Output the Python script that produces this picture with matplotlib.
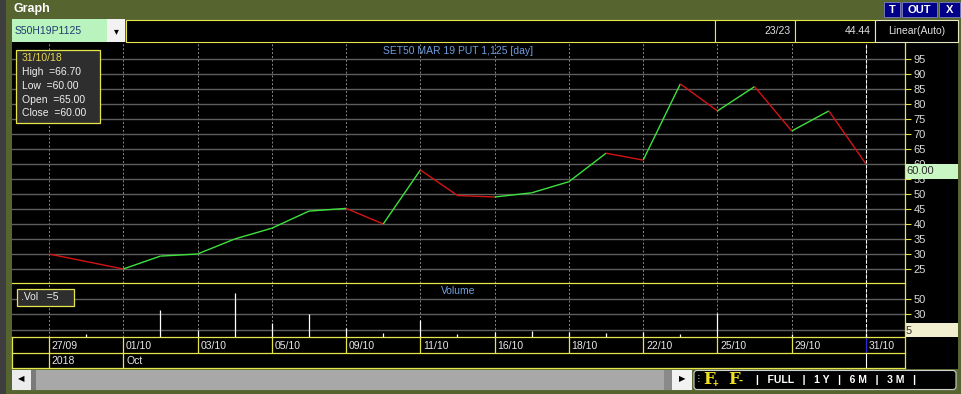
import matplotlib
matplotlib.use("Agg")
import matplotlib.pyplot as plt
import matplotlib.patches as mpatches
import matplotlib.transforms as mtransforms
from matplotlib.collections import LineCollection
import numpy as np

plt.rcParams['font.family'] = ['Liberation Sans', 'DejaVu Sans']

# trading days shown (23 bars)
dates = ['27/09', '28/09', '01/10', '02/10', '03/10', '04/10', '05/10', '08/10',
         '09/10', '10/10', '11/10', '12/10', '16/10', '17/10', '18/10', '19/10',
         '22/10', '24/10', '25/10', '26/10', '29/10', '30/10', '31/10']
closes = [30.0, 27.5, 25.0, 29.3, 30.0, 35.0, 38.6, 44.3, 45.2, 40.0, 58.0, 49.5,
          49.0, 50.4, 54.1, 63.6, 61.3, 86.7, 77.7, 85.8, 71.0, 77.7, 60.0]
volumes = [0, 4, 0, 36, 9.5, 58, 18, 31, 12, 6, 22.5, 4.5, 6.5, 8.7, 7, 6, 6.5,
           4.5, 32, 0, 4, 0, 5]
price_ticks = [25, 30, 35, 40, 45, 50, 55, 60, 65, 70, 75, 80, 85, 90, 95]
vol_ticks = [30, 50]
year_labels = [(0, '2018'), (2, 'Oct')]
last_bar = {'date': '31/10/18', 'High': '66.70', 'Low': '60.00', 'Open': '65.00', 'Close': '60.00'}

W, H = 962, 394
OLIVE = '#56652f'
YEL = '#e6e64a'
GRID = '#5e5e5e'

fig = plt.figure(figsize=(W / 100, H / 100), dpi=100)
fig.patch.set_facecolor(OLIVE)

# background / frame axes in pixel coords
bg = fig.add_axes([0, 0, 1, 1], zorder=0)
bg.set_xlim(0, W)
bg.set_ylim(H, 0)
bg.axis('off')


def box(ax, x0, y0, x1, y1, fc, ec='none', lw=1, z=1):
    ax.add_patch(mpatches.Rectangle((x0, y0), x1 - x0, y1 - y0, facecolor=fc,
                                    edgecolor=ec, linewidth=lw, zorder=z))


box(bg, 0, 0, 6, H, '#3e3e3e')
bg.text(14, 9, 'Graph', color='white', fontsize=9, fontweight='bold', va='center')
for x0, x1, t in [(884, 900, 'T'), (902, 937, 'OUT'), (939, 960, 'X')]:
    box(bg, x0, 2, x1, 17, '#000088', ec='#8080c0', lw=0.6)
    bg.text((x0 + x1) / 2, 9.5, t, color='white', fontsize=8, fontweight='bold',
            ha='center', va='center')

# header row
box(bg, 12, 19, 107, 42, '#b9f3bd')
bg.text(15, 30.5, 'S50H19P1125', color='#1e3c6e', fontsize=7.5, va='center')
box(bg, 107, 19, 125, 42, '#f2f2f2')
bg.text(116, 31, '▾', color='black', fontsize=7, ha='center', va='center')
box(bg, 12, 42, 958, 369, 'black')
box(bg, 126, 19.5, 715, 42, 'black', ec=YEL, lw=0.8)
box(bg, 715, 19.5, 795, 42, 'black', ec=YEL, lw=0.8)
box(bg, 795, 19.5, 875, 42, 'black', ec=YEL, lw=0.8)
box(bg, 875, 19.5, 958, 42, 'black', ec='#e8e8c0', lw=0.8)
bg.text(791, 31, '23/23', color='#e0e0e0', fontsize=7.5, ha='right', va='center')
bg.text(871, 31, '44.44', color='#e0e0e0', fontsize=7.5, ha='right', va='center')
bg.text(917, 31, 'Linear(Auto)', color='#e0e0e0', fontsize=7.5, ha='center', va='center')

# bottom toolbar
box(bg, 12, 369, 958, 391, '#5a6a33')
box(bg, 12, 369.5, 31, 390, '#ececec')
bg.text(21, 380, '◀', color='black', fontsize=6, ha='center', va='center')
box(bg, 31, 369.5, 668, 390, '#a8a8a8')
box(bg, 31, 369.5, 36, 390, '#7a7a7a')
box(bg, 664, 369.5, 672, 390, '#8a8a8a')
box(bg, 672, 369.5, 692, 390, '#f2f2f2')
bg.text(682, 380, '▶', color='black', fontsize=6, ha='center', va='center')
bg.add_patch(mpatches.FancyBboxPatch((694, 370.5), 262, 19, boxstyle='round,pad=0,rounding_size=3',
                                     facecolor='black', edgecolor='#d0d0d0', lw=0.8, zorder=2))
bg.text(697, 380, '⁝', color='#d0d0d0', fontsize=8, va='center', zorder=3)
bg.text(703, 380, 'F', color='#f0e020', fontsize=12, fontweight='bold', family='DejaVu Serif',
        va='center', zorder=3)
bg.text(713, 384, '+', color='#f0e020', fontsize=7, fontweight='bold', va='center', zorder=3)
bg.text(728, 380, 'F', color='#f0e020', fontsize=12, fontweight='bold', family='DejaVu Serif',
        va='center', zorder=3)
bg.text(739, 381, '-', color='#f0e020', fontsize=9, fontweight='bold', va='center', zorder=3)
bg.text(756, 380, '|   FULL   |   1 Y   |   6 M   |   3 M   |', color='white', fontsize=7.5,
        fontweight='bold', va='center', zorder=3)

# chart geometry (pixels)
XL, XR = 12, 905
X0, X22 = 49, 866
step = (X22 - X0) / (len(dates) - 1)
xlim = ((XL - X0) / step, (XR - X0) / step)
P_TOP, P_BOT = 43, 283.3
V_BOT = 337.3
ppu = 3.0
p_hi = 90 + (74 - P_TOP) / ppu
p_lo = 90 - (P_BOT - 74) / ppu
vppu = 0.767


def fig_rect(x0, y0, x1, y1):
    return [x0 / W, 1 - y1 / H, (x1 - x0) / W, (y1 - y0) / H]


idx = np.arange(len(dates))
lab_idx = idx[::2]

# price panel
ax = fig.add_axes(fig_rect(XL, P_TOP, XR, P_BOT), zorder=2)
ax.set_facecolor('none')
ax.set_xlim(*xlim)
ax.set_ylim(p_lo, p_hi)
pts = np.column_stack([idx, closes])
segs = np.stack([pts[:-1], pts[1:]], axis=1)
seg_cols = ['#3de23d' if b > a else '#d41414' for a, b in zip(closes[:-1], closes[1:])]
ax.add_collection(LineCollection(segs, colors=seg_cols, linewidths=1.0, zorder=3))
ax.set_yticks(price_ticks)
ax.yaxis.tick_right()
ax.tick_params(axis='y', colors=YEL, labelcolor='#dcdcdc', labelsize=8, length=4, width=0.8, pad=2)
ax.set_xticks(lab_idx)
ax.tick_params(axis='x', length=0, labelbottom=False)
ax.grid(axis='y', color=GRID, lw=1.0)
ax.grid(axis='x', color='#8a8a8a', lw=0.7, ls=(0, (2, 2)))
ax.axvline(idx[-1], color='white', lw=0.8, ls=(0, (3, 1.5)), zorder=4)
for s in ax.spines.values():
    s.set_visible(False)
ax.text(0.5, 0.965, 'SET50 MAR 19 PUT 1,125 [day]', transform=ax.transAxes, color='#6f9fe0',
        fontsize=7.5, ha='center', va='center')
tr = mtransforms.blended_transform_factory(ax.transAxes, ax.transData)
ax.add_patch(mpatches.Rectangle((1.0, closes[-1] - 5), 53 / (XR - XL), 5, transform=tr,
                                facecolor='#c9f7c4', edgecolor='none', clip_on=False, zorder=5))
ax.text(1.0 + 1 / (XR - XL), closes[-1] - 2.5, f'{closes[-1]:.2f}', transform=tr, color='#303030',
        fontsize=8, va='center', ha='left', clip_on=False, zorder=6)

# volume panel
av = fig.add_axes(fig_rect(XL, P_BOT, XR, V_BOT), zorder=2)
av.set_facecolor('none')
av.set_xlim(*xlim)
av.set_ylim(0, (V_BOT - P_BOT) / vppu)
av.vlines(idx, 0, volumes, color='white', lw=0.9, zorder=3)
av.set_yticks(vol_ticks)
av.yaxis.tick_right()
av.tick_params(axis='y', colors=YEL, labelcolor='#dcdcdc', labelsize=8, length=4, width=0.8, pad=2)
av.set_yticks([10], minor=True)
av.tick_params(axis='y', which='minor', length=0)
av.set_xticks(lab_idx)
av.tick_params(axis='x', length=0, labelbottom=False)
av.grid(axis='y', which='both', color=GRID, lw=1.0)
av.grid(axis='x', color='#8a8a8a', lw=0.7, ls=(0, (2, 2)))
av.axvline(idx[-1], color='white', lw=0.8, ls=(0, (3, 1.5)), zorder=4)
for s in av.spines.values():
    s.set_visible(False)
av.text(0.5, 0.85, 'Volume', transform=av.transAxes, color='#6f9fe0', fontsize=7.5,
        ha='center', va='center')
trv = mtransforms.blended_transform_factory(av.transAxes, av.transData)
av.add_patch(mpatches.Rectangle((1.0, 0), 53 / (XR - XL), 18.6, transform=trv,
                                facecolor='#f2eed0', edgecolor='none', clip_on=False, zorder=5))
av.text(1.0 + 1 / (XR - XL), 8, f'{volumes[-1]:g}', transform=trv, color='#303030',
        fontsize=8, va='center', ha='left', clip_on=False, zorder=6)

# date row and year row
ad = fig.add_axes(fig_rect(XL, V_BOT, XR, 352.5), zorder=2)
ad.set_facecolor('none')
ad.set_xlim(*xlim)
ad.set_ylim(0, 1)
ad.axis('off')
for i in lab_idx:
    c = '#2a2ad0' if i == idx[-1] else YEL
    ad.axvline(i, color=c, lw=0.9)
    ad.annotate(dates[i], (i, 0.45), xytext=(2, 0), textcoords='offset points', color='#e8e8e8',
                fontsize=7.5, va='center', ha='left')

ay = fig.add_axes(fig_rect(XL, 352.5, XR, 368), zorder=2)
ay.set_facecolor('none')
ay.set_xlim(*xlim)
ay.set_ylim(0, 1)
ay.axis('off')
for i, t in year_labels:
    ay.axvline(i, color=YEL, lw=0.9)
    ay.annotate(t, (i, 0.45), xytext=(2, 0), textcoords='offset points', color='#e8e8e8',
                fontsize=7.5, va='center', ha='left')
ay.axvline(idx[-1], color='white', lw=0.8)

# frame lines
ov = fig.add_axes([0, 0, 1, 1], zorder=3)
ov.set_facecolor('none')
ov.set_xlim(0, W)
ov.set_ylim(H, 0)
ov.axis('off')
for yy in [P_BOT, V_BOT, 352.5, 368]:
    ov.plot([XL, XR], [yy, yy], color=YEL, lw=0.9)
ov.plot([XR, XR], [P_TOP, 368], color=YEL, lw=0.9)
ov.plot([XL, XL], [V_BOT, 368], color=YEL, lw=0.9)

# info boxes
box(ov, 16, 50, 100, 123, '#2e2e2e', ec=YEL, lw=0.9, z=4)
ov.text(22, 58, last_bar['date'], color='#e8d850', fontsize=7.5, va='center', zorder=5)
for k, key in enumerate(['High', 'Low', 'Open', 'Close']):
    ov.text(22, 72 + 13.8 * k, f'{key}  ={last_bar[key]}', color='#f0f0f0', fontsize=7.5,
            va='center', zorder=5)
box(ov, 17, 289, 74, 306, '#2e2e2e', ec=YEL, lw=0.9, z=4)
ov.text(21, 297, f'.Vol   ={volumes[-1]:g}', color='#f0f0f0', fontsize=7.5, va='center', zorder=5)

fig.savefig('out.png', dpi=100, facecolor=fig.get_facecolor())
